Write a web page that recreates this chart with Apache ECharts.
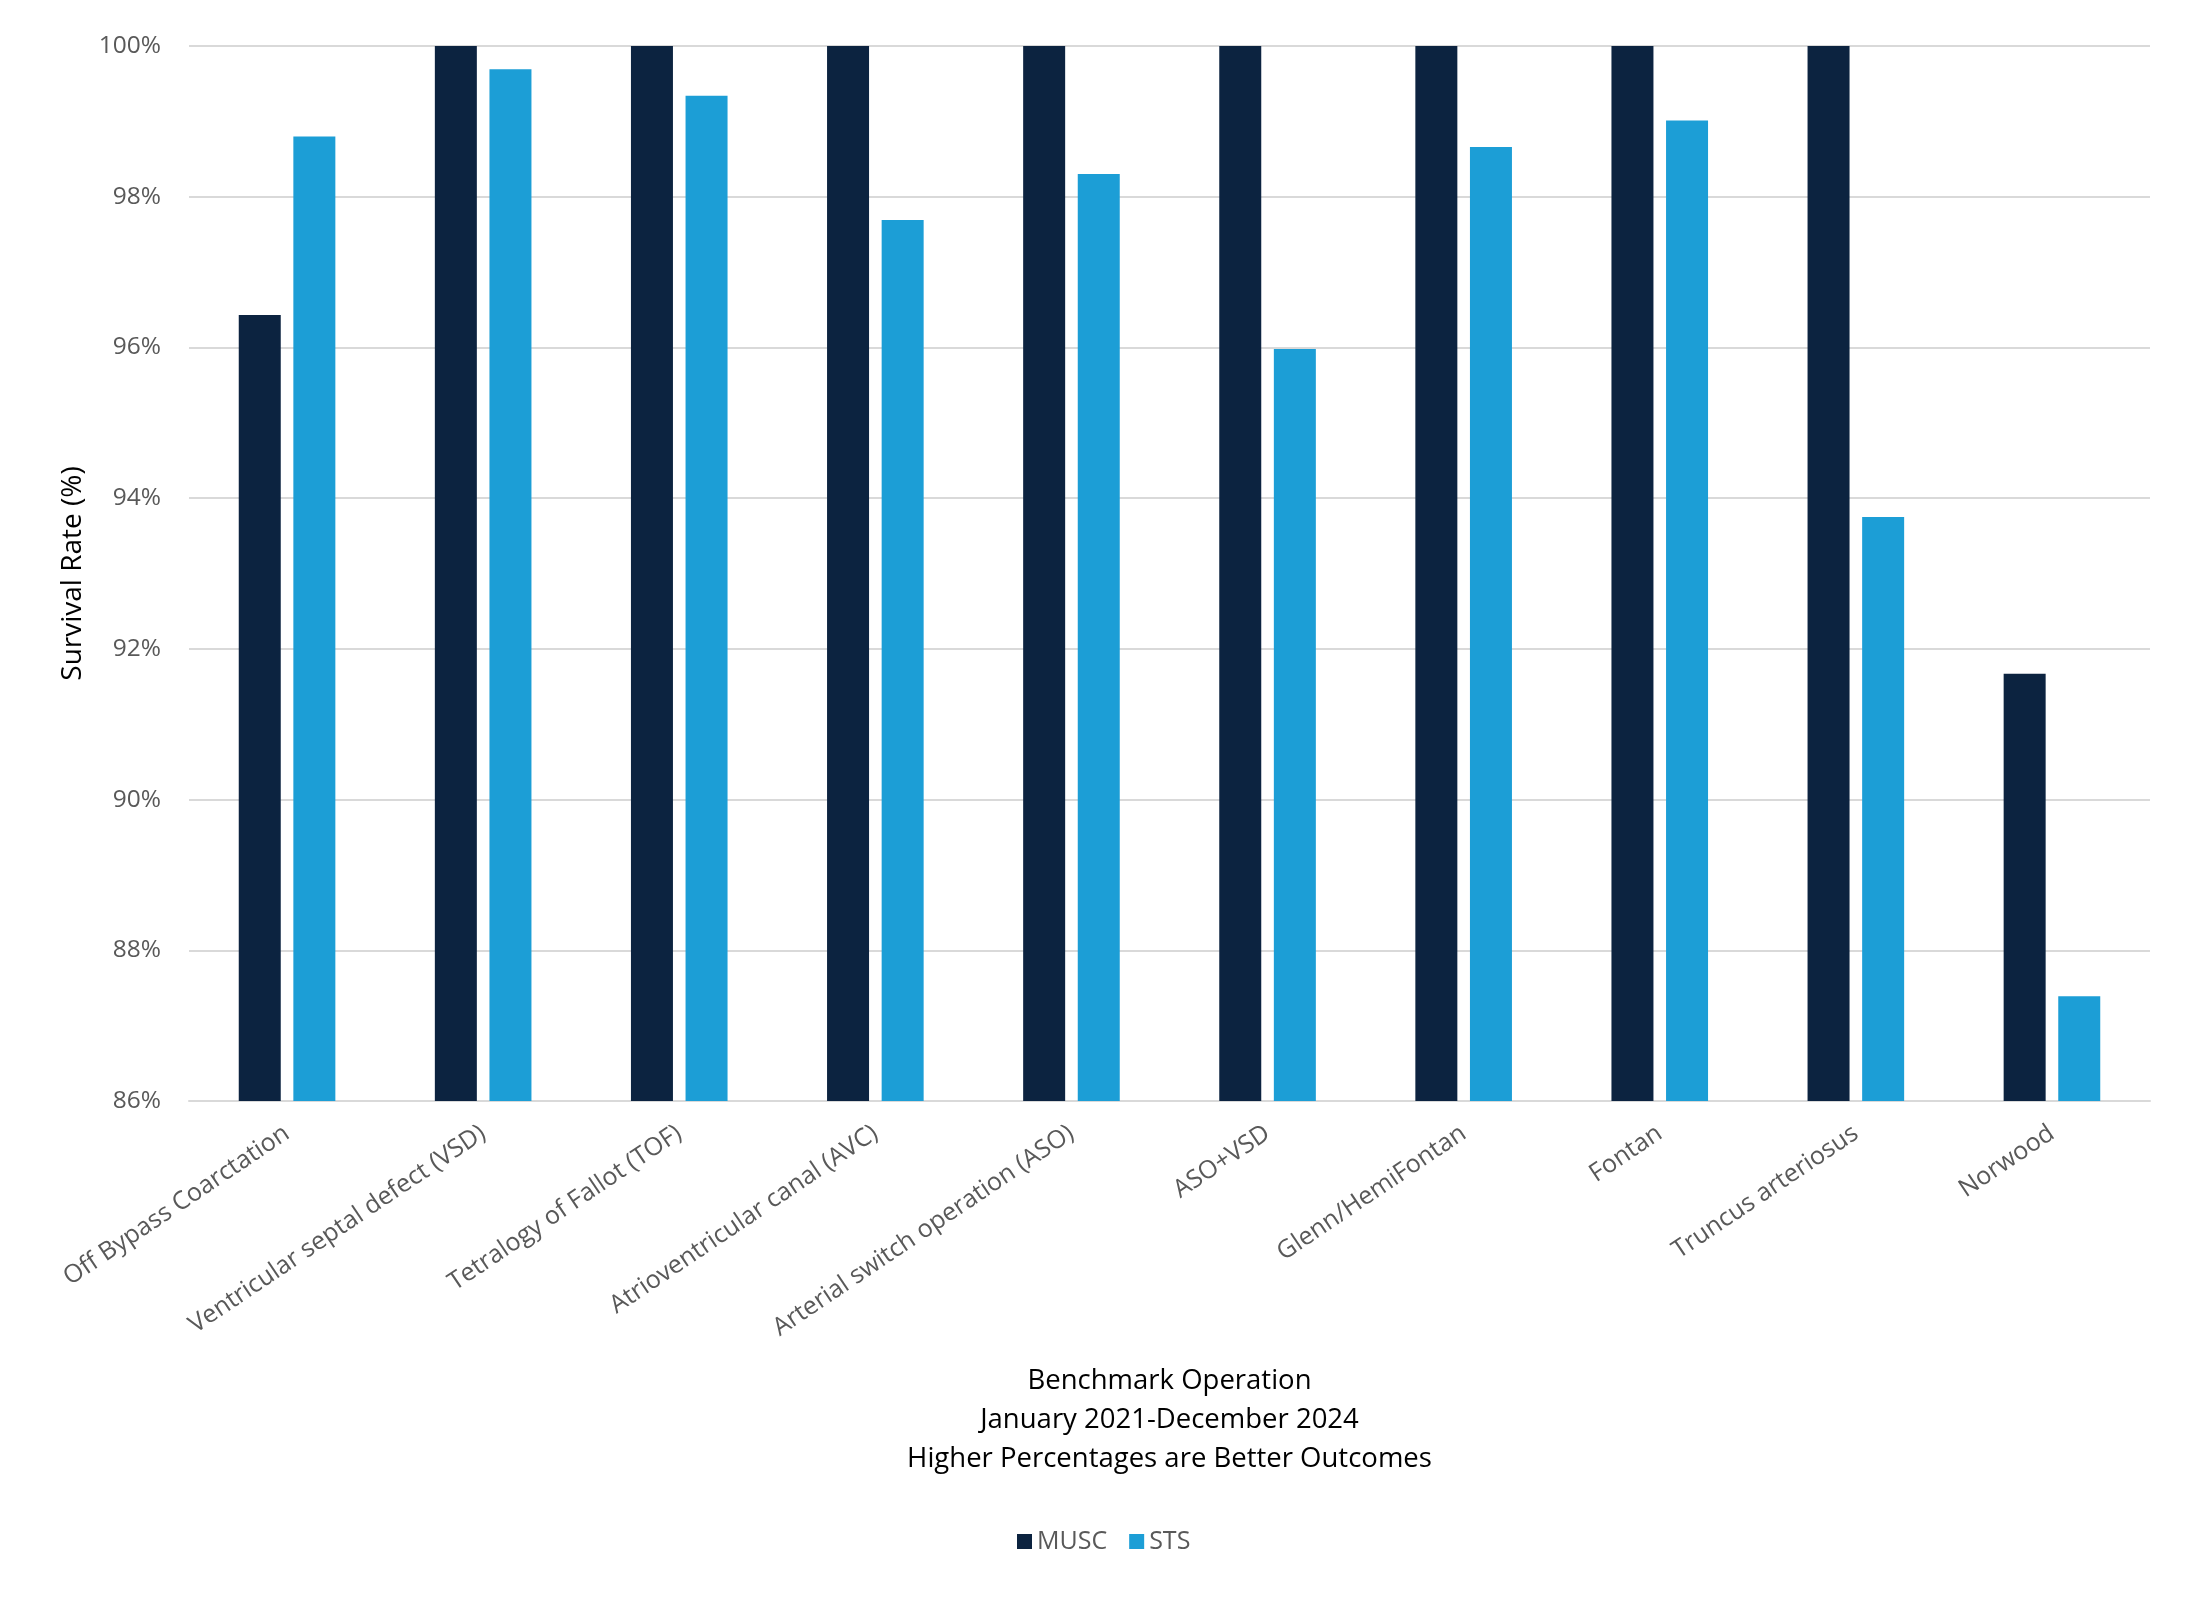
<!DOCTYPE html>
<html>
<head>
<meta charset="utf-8">
<script src="https://cdn.jsdelivr.net/npm/echarts@6/dist/echarts.min.js"></script>
<style>
  html, body { margin: 0; padding: 0; background: #fff; }
  #chart { width: 2200px; height: 1601px; }
</style>
</head>
<body>
<div id="chart"></div>
<script>
// benchmark operations (x categories)
const operations = [
  'Off Bypass Coarctation',
  'Ventricular septal defect (VSD)',
  'Tetralogy of Fallot (TOF)',
  'Atrioventricular canal (AVC)',
  'Arterial switch operation (ASO)',
  'ASO+VSD',
  'Glenn/HemiFontan',
  'Fontan',
  'Truncus arteriosus',
  'Norwood'
]
// survival rate, percent
const muscRate = [96.43, 100, 100, 100, 100, 100, 100, 100, 100, 91.67]
const stsRate = [98.8, 99.69, 99.34, 97.69, 98.3, 95.98, 98.66, 99.01, 93.75, 87.39]
const yTicks = { min: 86, max: 100, step: 2 }

const xTitle = [
  'Benchmark Operation',
  'January 2021-December 2024',
  'Higher Percentages are Better Outcomes'
]

let dom = document.getElementById('chart')
let myChart = echarts.init(dom)
var font = '"Open Sans", "Noto Sans", sans-serif'
var option = {
  animation: false,
  textStyle: { fontFamily: font },
  grid: { left: 189, right: 50, top: 46, bottom: 500, containLabel: false },
  legend: {
    data: ['MUSC', 'STS'],
    left: 1012,
    top: 1524,
    itemWidth: 15,
    itemHeight: 15,
    itemGap: 22,
    icon: 'rect',
    textStyle: { color: '#595959', fontSize: 25, fontFamily: font }
  },
  xAxis: {
    type: 'category',
    data: operations,
    name: xTitle.join('\n'),
    nameLocation: 'middle',
    nameGap: 261,
    nameTextStyle: { color: '#000', fontSize: 27.5, lineHeight: 39, fontFamily: font },
    axisLine: { lineStyle: { color: '#d9d9d9', width: 2 } },
    axisTick: { show: false },
    axisLabel: {
      interval: 0,
      rotate: 34,
      margin: 30,
      color: '#595959',
      fontSize: 25,
      fontFamily: font
    }
  },
  yAxis: {
    type: 'value',
    min: yTicks.min,
    max: yTicks.max,
    interval: yTicks.step,
    name: 'Survival Rate (%)',
    nameLocation: 'middle',
    nameRotate: 90,
    nameGap: 102,
    nameTextStyle: { color: '#000', fontSize: 28, fontFamily: font },
    axisLine: { show: false },
    axisTick: { show: false },
    axisLabel: {
      formatter: '{value}%',
      margin: 28,
      color: '#595959',
      fontSize: 24.5,
      fontFamily: font
    },
    splitLine: { lineStyle: { color: '#d9d9d9', width: 2 } }
  },
  series: [
    {
      name: 'MUSC',
      type: 'bar',
      data: muscRate,
      barWidth: 42,
      barGap: '30%',
      itemStyle: { color: '#0c2340' }
    },
    {
      name: 'STS',
      type: 'bar',
      data: stsRate,
      barWidth: 42,
      barGap: '30%',
      itemStyle: { color: '#1c9ed6' }
    }
  ]
}
if (option && typeof option === 'object') {
  myChart.setOption(option)
}
</script>
</body>
</html>
